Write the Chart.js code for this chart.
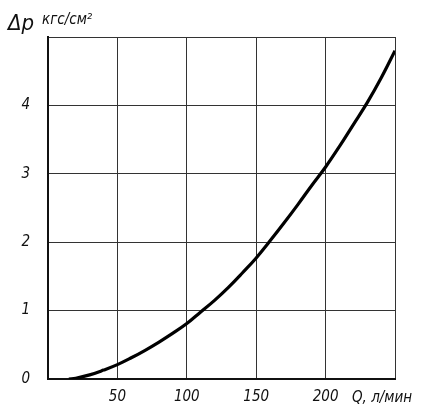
<!DOCTYPE html>
<html>
<head>
<meta charset="utf-8">
<script src="https://cdn.jsdelivr.net/npm/chart.js@4"></script>
<style>
  html, body { margin: 0; padding: 0; background: #fff; }
  #wrap { width: 428px; height: 411px; }
</style>
</head>
<body>
<div id="wrap"><canvas id="myChart"></canvas></div>
<script>
// flow Q, l/min and pressure drop, kgf/cm2
var flow = [15, 20, 30, 40, 50, 60, 70, 80, 90, 100, 110, 120, 130, 140, 150, 160, 170, 180, 190, 200, 210, 220, 230, 240, 250];
var dp = [0, 0.01, 0.06, 0.13, 0.21, 0.31, 0.42, 0.54, 0.67, 0.81, 0.98, 1.15, 1.34, 1.55, 1.77, 2.02, 2.28, 2.55, 2.83, 3.10, 3.40, 3.72, 4.04, 4.40, 4.80];
var xTicks = [50, 100, 150, 200];
var yTicks = [0, 1, 2, 3, 4];
var yTitle = 'Δp';
var yUnit = 'кгс/см²';
var xTitle = 'Q, л/мин';

var fontFam = '"Liberation Sans Narrow", "DejaVu Sans Condensed", sans-serif';

var points = [];
for (var i in flow) {
  points.push({x: flow[i], y: dp[i]});
}

var labelsPlugin = {
  id: 'labels',
  afterDraw: function(chart) {
    var c = chart.ctx;
    c.save();
    c.fillStyle = '#111';
    c.textBaseline = 'alphabetic';
    c.font = 'italic 22px ' + fontFam;
    c.fillText(yTitle, 8, 30);
    c.font = 'italic 15px ' + fontFam;
    c.fillText(yUnit, 42, 24);
    c.font = 'italic 15px ' + fontFam;
    c.fillText(xTitle, 352, 402);
    c.restore();
  }
};

var ctx = document.getElementById('myChart');
var chart = new Chart(ctx, {
  type: 'line',
  data: {
    datasets: [{
      data: points,
      borderColor: '#000',
      borderWidth: 3.2,
      pointRadius: 0,
      tension: 0.4,
      fill: false
    }]
  },
  options: {
    responsive: true,
    maintainAspectRatio: false,
    animation: false,
    layout: { padding: { top: 37, right: 33, left: 0, bottom: 0 } },
    plugins: { legend: { display: false }, tooltip: { enabled: false } },
    scales: {
      x: {
        type: 'linear',
        min: 0,
        max: 250,
        afterBuildTicks: function(axis) {
          axis.ticks = [0, 50, 100, 150, 200, 250].map(function(v) { return {value: v}; });
        },
        afterFit: function(axis) { axis.height = 32; },
        grid: { color: '#333', lineWidth: 1, drawTicks: false },
        border: { color: '#111', width: 2 },
        ticks: {
          padding: 9,
          color: '#111',
          font: { family: fontFam, size: 15, style: 'italic' },
          callback: function(v) { return xTicks.indexOf(v) >= 0 ? v : ''; }
        }
      },
      y: {
        min: 0,
        max: 5,
        afterBuildTicks: function(axis) {
          axis.ticks = [0, 1, 2, 3, 4, 5].map(function(v) { return {value: v}; });
        },
        afterFit: function(axis) { axis.width = 48; },
        grid: { color: '#333', lineWidth: 1, drawTicks: false },
        border: { color: '#111', width: 2 },
        ticks: {
          padding: 18,
          color: '#111',
          font: { family: fontFam, size: 15, style: 'italic' },
          callback: function(v) { return yTicks.indexOf(v) >= 0 ? v : ''; }
        }
      }
    }
  },
  plugins: [labelsPlugin]
});
</script>
</body>
</html>
